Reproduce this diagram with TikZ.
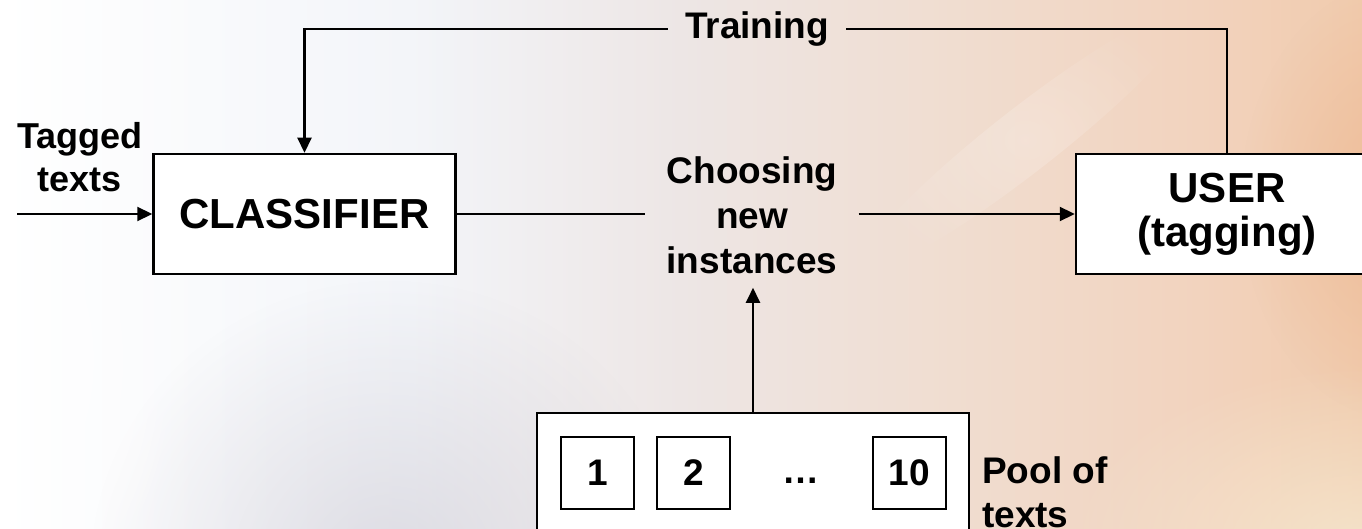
\documentclass[tikz,border=0pt]{standalone}
\usepackage{fontspec}
\setmainfont{Liberation Sans}
\usetikzlibrary{arrows.meta,fadings}

\definecolor{bgA}{HTML}{F3F5F9}
\definecolor{bgB}{HTML}{EDE6E5}
\definecolor{bgC}{HTML}{F0DDD0}
\definecolor{bgD}{HTML}{F2D3BE}
\definecolor{bgE}{HTML}{F1CBAD}
\definecolor{haze}{HTML}{CAC7D1}
\definecolor{amber}{HTML}{EDB48C}
\definecolor{cream}{HTML}{F6EFD8}

% left-to-right wash of the slide background
\pgfdeclarehorizontalshading{slidewash}{100bp}{%
  color(0bp)=(white); color(25bp)=(white); color(40bp)=(bgA);
  color(50bp)=(bgB); color(60bp)=(bgC); color(69bp)=(bgD);
  color(75bp)=(bgE); color(100bp)=(bgE)}

\tikzfading[name=softspot, inner color=transparent!35, outer color=transparent!100]
\tikzfading[name=mildspot, inner color=transparent!45, outer color=transparent!100]
\tikzfading[name=faintspot, inner color=transparent!78, outer color=transparent!100]

\tikzset{
  bigtext/.style={font=\bfseries\fontsize{42}{44}\selectfont},
  midtext/.style={font=\bfseries\fontsize{37}{44}\selectfont},
  box/.style={draw, line width=2.5pt, fill=white, inner sep=0pt, bigtext,
    align=center, minimum width=302pt, minimum height=120pt},
  itembox/.style={draw, line width=2pt, fill=white, inner sep=0pt, midtext,
    minimum width=73pt, minimum height=72pt},
  wire/.style={line width=2.2pt},
  arr/.style={wire, -{Triangle[length=15pt,width=14pt]}}
}

\begin{document}
\begin{tikzpicture}[x=1pt,y=-1pt]
\useasboundingbox (0,0) rectangle (1362,529);
\clip (0,0) rectangle (1362,529);

% background
\shade[shading=slidewash] (0,0) rectangle (1362,529);
\fill[amber, path fading=softspot] (1400,200) ellipse (160 and 220);
\fill[haze, path fading=mildspot] (390,570) ellipse (300 and 290);
\fill[white, path fading=softspot] (-20,360) ellipse (230 and 330);
\fill[white, path fading=faintspot, rotate around={38:(1025,140)}] (1025,140) ellipse (210 and 32);
\fill[cream, path fading=softspot] (1362,545) ellipse (300 and 180);

% blocks
\node[box] (cls) at (304.5,214) {CLASSIFIER};
\node[box] (usr) at (1227,214) {USER\\(tagging)};
\node[draw, line width=2.5pt, fill=white, minimum width=432pt, minimum height=180pt] (pool) at (753,503) {};
\node[itembox] (i1) at (597.5,473) {1};
\node[itembox] (i2) at (693.5,473) {2};
\node[itembox] (i10) at (909.5,473) {10};
\node[midtext, anchor=base, inner sep=0pt] (dots) at (801,483) {…};

% labels
\node[midtext, inner xsep=17pt, inner ysep=0pt] (train) at (757,29) {Training};
\node[midtext, align=center, inner xsep=21pt, inner ysep=14pt, font=\bfseries\fontsize{37}{45}\selectfont] (choose) at (752,215) {Choosing\\new\\instances};
\node[midtext, align=center, inner sep=0pt, font=\bfseries\fontsize{36}{43}\selectfont] (tagged) at (80,157) {Tagged\\texts};
\node[midtext, align=left, anchor=north west, inner sep=0pt] (poollbl) at (982,456) {Pool of\\texts};

% connectors
\coordinate (src) at (17,214);
\draw[arr] (src) -- (cls.west);
\draw[wire] (usr.north) |- (train.east);
\draw[arr] (train.west) -| (cls.north);
\draw[wire] (cls.east) -- (cls.east -| choose.west);
\draw[arr] (usr.west -| choose.east) -- (usr.west);
\draw[arr] (pool.north) -- (pool.north |- choose.south);
\end{tikzpicture}
\end{document}
